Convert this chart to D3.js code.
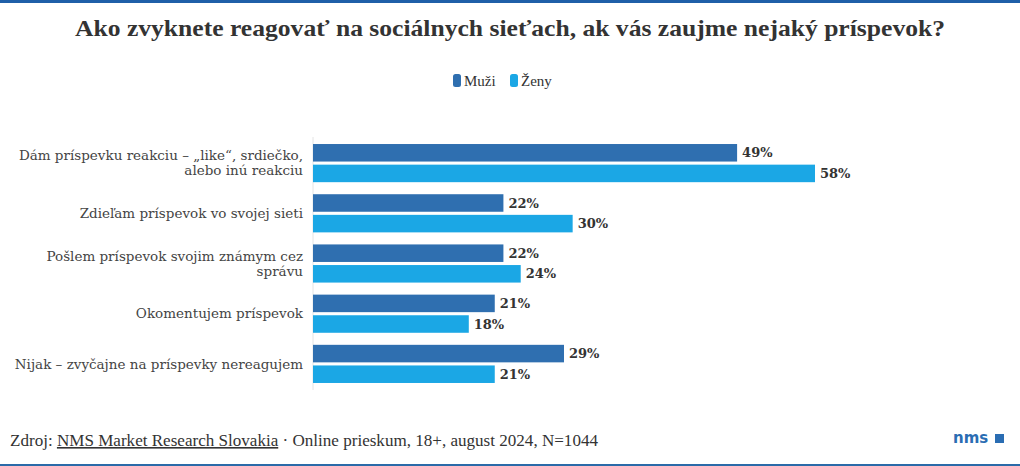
<!DOCTYPE html>
<html><head><meta charset="utf-8">
<script src="https://cdn.jsdelivr.net/npm/d3@7"></script>
<style>
body{margin:0;background:#fff;}
svg{display:block;}
</style></head>
<body>
<svg id="c" width="1020" height="466"></svg>
<script>
const title = "Ako zvyknete reagovať na sociálnych sieťach, ak vás zaujme nejaký príspevok?";
const categories = [
  "Dám príspevku reakciu – „like“, srdiečko, alebo inú reakciu",
  "Zdieľam príspevok vo svojej sieti",
  "Pošlem príspevok svojim známym cez správu",
  "Okomentujem príspevok",
  "Nijak – zvyčajne na príspevky nereagujem"
];
const seriesNames = ["Muži", "Ženy"];
const muzi = [49, 22, 22, 21, 29];
const zeny = [58, 30, 24, 18, 21];
const seriesColors = ["#2f6fb0", "#1ba7e5"];
const sourceLabel = "Zdroj: ";
const sourceLink = "NMS Market Research Slovakia";
const sourceRest = " · Online prieskum, 18+, august 2024, N=1044";

const seriesValues = [muzi, zeny];
const rows = categories.map((c, i) => ({cat: c, vals: seriesNames.map((s, j) => ({s, v: seriesValues[j][i]}))}));

const svg = d3.select("#c");
const W = 1020, H = 466;
const serif = "'DejaVu Serif', 'Liberation Serif', serif";

svg.append("rect").attr("x",0).attr("y",0).attr("width",W).attr("height",3).attr("fill","#1f5fa8");
svg.append("rect").attr("x",0).attr("y",H-2).attr("width",W).attr("height",2).attr("fill","#2a6aa8");

svg.append("text").attr("x", 510).attr("y", 36).attr("text-anchor","middle")
  .attr("font-family","'Liberation Serif', serif").attr("font-weight","bold")
  .attr("font-size", 24).attr("fill","#333").attr("textLength", 870).attr("lengthAdjust","spacingAndGlyphs")
  .text(title);

// legend
const legend = svg.append("g").attr("font-family","'Liberation Serif', serif").attr("font-size",15).attr("fill","#333");
const legX = [453, 510];
seriesNames.forEach((s, i) => {
  legend.append("rect").attr("x", legX[i]).attr("y", 74).attr("width", 8).attr("height", 13).attr("rx", 2.5)
    .attr("fill", seriesColors[i]);
  legend.append("text").attr("x", legX[i] + 11).attr("y", 86).text(s);
});

const x = d3.scaleLinear().domain([0, 58]).range([313, 815]);
const y = d3.scaleBand().domain(categories).range([138, 389]).paddingInner(0.24).paddingOuter(0.12);
const y1 = d3.scaleBand().domain(seriesNames).range([0, y.bandwidth()]).paddingInner(0.15);
const color = d3.scaleOrdinal().domain(seriesNames).range(seriesColors);

svg.append("line").attr("x1", x(0)).attr("x2", x(0)).attr("y1", 137).attr("y2", 390)
  .attr("stroke","#e4e4e4").attr("stroke-width",1);

const g = svg.selectAll("g.row").data(rows).join("g").attr("class","row")
  .attr("transform", d => `translate(0,${y(d.cat)})`);
g.selectAll("rect").data(d => d.vals).join("rect")
  .attr("x", x(0)).attr("y", d => y1(d.s)).attr("width", d => x(d.v) - x(0)).attr("height", y1.bandwidth())
  .attr("fill", d => color(d.s));
g.selectAll("text.val").data(d => d.vals).join("text").attr("class","val")
  .attr("x", d => x(d.v) + 5).attr("y", d => y1(d.s) + y1.bandwidth()/2).attr("dy","0.36em")
  .attr("font-family", serif).attr("font-weight","bold").attr("font-size", 13).attr("fill","#333")
  .text(d => d.v + "%");

// category labels with wrapping
const maxW = 296;
g.each(function(d){
  const t = d3.select(this).append("text").attr("text-anchor","end")
    .attr("font-family", serif).attr("font-size", 13.5).attr("fill","#444");
  const words = d.cat.split(" ");
  const lines = [];
  let line = [];
  const probe = t.append("tspan");
  words.forEach(w => {
    line.push(w);
    probe.text(line.join(" "));
    if (probe.node().getComputedTextLength() > maxW && line.length > 1) {
      line.pop(); lines.push(line.join(" ")); line = [w];
    }
  });
  lines.push(line.join(" "));
  probe.remove();
  const lh = 15;
  const cy = y.bandwidth()/2;
  const start = cy - (lines.length - 1) * lh / 2;
  lines.forEach((l, i) => {
    t.append("tspan").attr("x", 303).attr("y", start + i*lh).attr("dy","0.35em").text(l);
  });
});

// footer
const f = svg.append("text").attr("x", 10).attr("y", 446).attr("font-family","'Liberation Serif', serif")
  .attr("font-size", 16).attr("fill","#333").attr("textLength", 588).attr("lengthAdjust","spacingAndGlyphs");
f.append("tspan").text(sourceLabel);
f.append("tspan").attr("text-decoration","underline").text(sourceLink);
f.append("tspan").text(sourceRest);

// logo
svg.append("text").attr("x", 953).attr("y", 443).attr("font-family","'DejaVu Sans', sans-serif")
  .attr("font-weight","bold").attr("font-size", 15).attr("fill","#2a6db3").text("nms");
svg.append("rect").attr("x", 995).attr("y", 434).attr("width", 9).attr("height", 9).attr("fill","#2a6db3");
</script>
</body></html>
